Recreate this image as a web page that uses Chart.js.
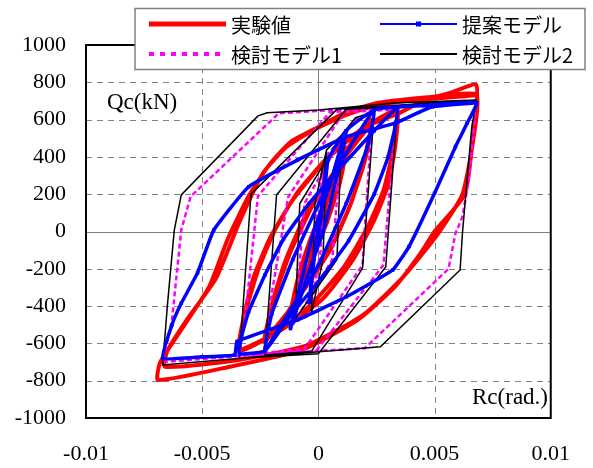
<!DOCTYPE html>
<html lang="ja">
<head>
<meta charset="utf-8">
<title>Qc-Rc</title>
<script src="https://cdn.jsdelivr.net/npm/chart.js@4.4.1/dist/chart.umd.min.js"></script>
<style>
  html, body { margin: 0; padding: 0; background: #fff; }
  canvas { display: block; }
</style>
</head>
<body>
<canvas id="myChart" width="593" height="468"></canvas>
<script>
// Rc (rad.) / Qc (kN)
const xTicks = [-0.01, -0.005, 0, 0.005, 0.01];
const xTickLabels = ['-0.01', '-0.005', '0', '0.005', '0.01'];
const yTicks = [-1000, -800, -600, -400, -200, 0, 200, 400, 600, 800, 1000];

// 実験値
const jikken = [
  [0,0],[0.0002,140],[0.0005,260],[0.0003,120],[0.0001,10],[-0.0002,-110],[-0.0005,-260],[-0.0003,-120],[-0.0001,-10],[0.0002,110],[0.0005,250],
  [0.0008,360],[0.0012,450],[0.0009,260],[0.0004,60],[-0.0002,-130],[-0.0007,-290],[-0.0012,-440],[-0.0009,-260],[-0.0004,-60],[0.0002,130],[0.0007,290],[0.0012,440],
  [0.0009,250],[0.0003,40],[-0.0003,-150],[-0.0012,-430],[-0.0008,-230],[-0.0002,-20],[0.0004,170],[0.0012,430],
  [0.0017,520],[0.0023,600],[0.002,400],[0.0014,150],[0.0005,-100],[-0.0008,-340],[-0.0023,-590],[-0.002,-390],[-0.0014,-150],[-0.0005,100],[0.0008,340],[0.0023,590],
  [0.002,380],[0.0013,120],[0.0003,-140],[-0.001,-380],[-0.0023,-575],[-0.0019,-360],[-0.0012,-110],[-0.0002,150],[0.0011,390],[0.0023,580],
  [0.0028,620],[0.0034,655],[0.0033,450],[0.003,250],[0.0024,60],[0.0015,-150],[0.0002,-360],[-0.0015,-520],[-0.0034,-640],
  [-0.0032,-450],[-0.0028,-250],[-0.0021,-40],[-0.0011,170],[0.0003,380],[0.0018,540],[0.0034,640],
  [0.0032,430],[0.0028,220],[0.0021,20],[0.0011,-190],[-0.0003,-390],[-0.0018,-540],[-0.0034,-630],
  [-0.0031,-420],[-0.0026,-210],[-0.0019,0],[-0.0009,210],[0.0005,410],[0.002,560],[0.0034,630],
  [0.0045,700],[0.0057,745],[0.0068,785],
  [0.0067,560],[0.0063,200],[0.005,0],[0.0044,-116],[0.0033,-296],[0.0017,-474],[-0.0007,-635],[-0.0038,-725],[-0.0069,-796],
  [-0.0068,-700],[-0.0059,-528],[-0.0047,-296],[-0.0039,-40],[-0.003,190],[-0.0021,360],[-0.0012,480],[0,560],[0.0012,640],[0.0026,690],[0.0047,720],[0.0068,735],
  [0.0067,520],[0.0062,200],[0.0051,-20],[0.0036,-250],[0.0019,-450],[-0.0005,-610],[-0.0035,-690],[-0.0066,-725],
  [-0.0065,-640],[-0.0057,-480],[-0.0044,-250],[-0.0034,50],[-0.0024,310],[-0.0014,450],[-0.0002,545],[0.0012,625],[0.0026,680],[0.0047,710],[0.0068,730]
];

// 提案モデル
const teian = [
  [0,0],[0.0004,380],[0.0002,150],[-0.0001,-60],[-0.0004,-380],[-0.0002,-150],[0.0001,60],[0.0004,380],
  [0.0012,540],[0.0008,300],[0.0002,0],[-0.0005,-250],[-0.0012,-520],[-0.0008,-300],[-0.0002,0],[0.0005,250],[0.0012,540],
  [0.0024,650],[0.0021,450],[0.0012,150],[0,-180],[-0.0012,-420],[-0.0023,-635],[-0.002,-440],[-0.0011,-150],[0.0001,170],[0.0012,420],[0.0024,650],
  [0.0034,665],[0.0033,560],[0.003,400],[0.0024,200],[0.0013,-50],[0,-270],[-0.0012,-450],[-0.0023,-640],[-0.0034,-655],
  [-0.0033,-560],[-0.003,-430],[-0.0023,-233],[-0.0015,-40],[-0.0004,150],[0.001,350],[0.0024,540],[0.0034,665],
  [0.0045,675],[0.0068,690],
  [0.0064,580],[0.0059,455],[0.005,205],[0.0039,-81],[0.0032,-206],[0.0012,-350],[-0.0009,-474],[-0.0035,-590],[-0.0036,-662],[-0.005,-672],[-0.0067,-680],
  [-0.0063,-500],[-0.0059,-385],[-0.0052,-222],[-0.0045,8],[-0.003,240],[-0.0009,383],[0.0012,508],[0.0033,581],[0.0049,669],[0.0068,690]
];

// 検討モデル1
const kento1 = [
  [0,0],[0.0003,400],[0.0001,-100],[-0.0003,-400],[-0.0001,100],[0.0003,400],
  [0.001,500],[0.0006,-150],[-0.001,-480],[-0.0006,150],[0.001,500],
  [0.0016,600],[0.0024,635],[0.0022,400],[0.0019,-180],[-0.0006,-630],[-0.0023,-650],[-0.0021,-400],[-0.0013,185],[0.0011,640],[0.0034,655],
  [0.0032,400],[0.0028,-180],[-0.0001,-640],[-0.0034,-665],[-0.0031,-400],[-0.0026,190],[0.0005,640],[0.0068,700],
  [0.0065,300],[0.0062,79],[0.0059,-10],[0.0056,-200],[0.002,-626],[-0.0015,-650],[-0.0067,-700],
  [-0.0063,-474],[-0.0059,8],[-0.0055,187],[-0.0017,634],[0.0068,700]
];

// 検討モデル2
const kento2 = [
  [0,0],[0.00035,437],[0.0002,-150],[-0.0003,-440],[-0.00015,150],[0.00035,437],
  [0.001,517],[0.0008,-150],[-0.001,-470],[-0.0008,150],[0.001,517],
  [0.0016,610],[0.0024,642],[0.0019,-196],[-0.0003,-644],[-0.0023,-662],[-0.0018,196],[0.0012,655],[0.0034,669],
  [0.0029,-190],[0,-655],[-0.0034,-680],[-0.0029,200],[0.0008,655],[0.0068,705],
  [0.0066,560],[0.0062,-8],[0.0061,-206],[0.00267,-618],[-0.0017,-662],[-0.0067,-716],
  [-0.0065,-400],[-0.0062,8],[-0.0059,196],[-0.0026,620],[-0.0022,637],[0,651],[0.0034,690],[0.0068,705]
];

const toXY = pts => pts.map(p => ({ x: p[0], y: p[1] }));
const serif = '"Liberation Serif", "Times New Roman", serif';
const tickFont = { family: serif, size: 22 };

const framePlugin = {
  id: 'frame',
  beforeDatasetsDraw(chart) {
    const { ctx, chartArea: a, scales: { x, y } } = chart;
    ctx.save();
    ctx.strokeStyle = '#808080';
    ctx.lineWidth = 1;
    ctx.setLineDash([6, 5]);
    yTicks.filter(v => v !== 0 && Math.abs(v) !== 1000).forEach(v => {
      const py = Math.round(y.getPixelForValue(v)) + 0.5;
      ctx.beginPath(); ctx.moveTo(a.left, py); ctx.lineTo(a.right, py); ctx.stroke();
    });
    [-0.005, 0.005].forEach(v => {
      const px = Math.round(x.getPixelForValue(v)) + 0.5;
      ctx.beginPath(); ctx.moveTo(px, a.top); ctx.lineTo(px, a.bottom); ctx.stroke();
    });
    ctx.setLineDash([]);
    const zx = Math.round(x.getPixelForValue(0)) + 0.5;
    const zy = Math.round(y.getPixelForValue(0)) + 0.5;
    ctx.beginPath(); ctx.moveTo(zx, a.top); ctx.lineTo(zx, a.bottom); ctx.stroke();
    ctx.beginPath(); ctx.moveTo(a.left, zy); ctx.lineTo(a.right, zy); ctx.stroke();
    ctx.restore();
  },
  afterDatasetsDraw(chart) {
    const { ctx, chartArea: a } = chart;
    ctx.save();
    // plot border
    ctx.strokeStyle = '#000';
    ctx.lineWidth = 2;
    ctx.strokeRect(a.left, a.top, a.right - a.left, a.bottom - a.top);

    // axis titles
    ctx.fillStyle = '#000';
    ctx.font = '23px ' + serif;
    ctx.textBaseline = 'middle';
    ctx.textAlign = 'left';
    ctx.fillText('Qc(kN)', 107, 103);
    ctx.textAlign = 'right';
    ctx.fillText('Rc(rad.)', 548, 398);

    // legend
    ctx.fillStyle = '#fff';
    ctx.fillRect(135, 8.5, 450, 61);
    ctx.strokeStyle = '#808080';
    ctx.lineWidth = 1.5;
    ctx.strokeRect(135, 8.5, 450, 61);

    const ds = chart.data.datasets;
    const items = [
      { d: ds[0], x: 149, y: 24 },
      { d: ds[1], x: 380, y: 24 },
      { d: ds[2], x: 149, y: 54 },
      { d: ds[3], x: 380, y: 54 }
    ];
    items.forEach(it => {
      const d = it.d;
      ctx.strokeStyle = d.borderColor;
      ctx.lineWidth = d.legendWidth;
      ctx.setLineDash(d.legendDash || []);
      ctx.beginPath(); ctx.moveTo(it.x, it.y); ctx.lineTo(it.x + 77, it.y); ctx.stroke();
      ctx.setLineDash([]);
      if (d.pointRadius > 0) {
        ctx.fillStyle = d.borderColor;
        ctx.fillRect(it.x + 36, it.y - 2.5, 5, 5);
      }
      ctx.fillStyle = '#000';
      ctx.font = '20px "Noto Sans CJK JP"';
      ctx.textAlign = 'left';
      ctx.textBaseline = 'middle';
      ctx.fillText(d.label, it.x + 82, it.y + 1.5);
    });
    ctx.restore();
  }
};

const ctx = document.getElementById('myChart').getContext('2d');
new Chart(ctx, {
  type: 'scatter',
  data: {
    datasets: [
      { label: '実験値', data: toXY(jikken), showLine: true, borderColor: '#ff0000', borderWidth: 4,
        pointRadius: 0, tension: 0.18, order: 3, legendWidth: 5 },
      { label: '提案モデル', data: toXY(teian), showLine: true, borderColor: '#0000ff', backgroundColor: '#0000ff',
        borderWidth: 3.5, pointRadius: 2.5, pointStyle: 'rect', pointBorderWidth: 0, tension: 0.12, order: 0, legendWidth: 2 },
      { label: '検討モデル1', data: toXY(kento1), showLine: true, borderColor: '#ff00ff', borderWidth: 2.5,
        borderDash: [5, 3], pointRadius: 0, tension: 0, order: 2, legendWidth: 4, legendDash: [5, 6] },
      { label: '検討モデル2', data: toXY(kento2), showLine: true, borderColor: '#000000', borderWidth: 1.5,
        pointRadius: 0, tension: 0, order: 1, legendWidth: 2 }
    ]
  },
  options: {
    responsive: false,
    animation: false,
    events: [],
    layout: { padding: { top: 45, right: 35, left: 0, bottom: 0 } },
    plugins: { legend: { display: false }, tooltip: { enabled: false } },
    scales: {
      x: {
        type: 'linear', min: -0.01, max: 0.01,
        grid: { display: false, drawTicks: false }, border: { display: false },
        afterBuildTicks: s => { s.ticks = xTicks.map(v => ({ value: v })); },
        afterFit: s => { s.height = 50; },
        ticks: { font: tickFont, color: '#000', padding: 23, maxRotation: 0, autoSkip: false,
                 callback: (v, i) => xTickLabels[i] }
      },
      y: {
        type: 'linear', min: -1000, max: 1000,
        grid: { display: false, drawTicks: false }, border: { display: false },
        afterBuildTicks: s => { s.ticks = yTicks.map(v => ({ value: v })); },
        afterFit: s => { s.width = 86; },
        ticks: { font: tickFont, color: '#000', padding: 20, autoSkip: false,
                 callback: v => String(v) }
      }
    }
  },
  plugins: [framePlugin]
});
</script>
</body>
</html>
